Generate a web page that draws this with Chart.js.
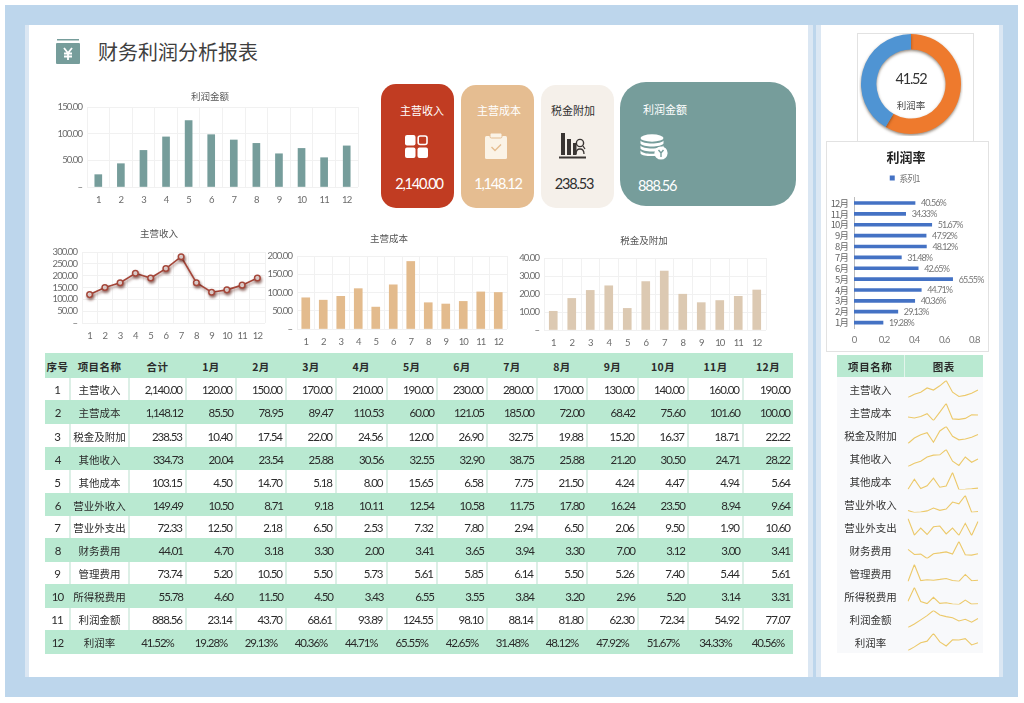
<!DOCTYPE html>
<html lang="zh"><head><meta charset="utf-8">
<script src="https://cdn.jsdelivr.net/npm/chart.js@4/dist/chart.umd.min.js"></script>
<style>
html,body{margin:0;padding:0;background:#fff;width:1024px;height:703px;overflow:hidden}
body{position:relative;font-family:"Noto Sans CJK SC",sans-serif;color:#333}
.a{position:absolute}
.c{text-align:center;white-space:nowrap}
canvas{position:absolute;display:block}
table{position:absolute;border-collapse:collapse;table-layout:fixed;font-size:10.5px}
td,th{padding:1px 0 0;text-align:center;overflow:hidden;white-space:nowrap;color:#2b2b2b}
.num{font-family:"Lato",sans-serif;font-size:11.5px;letter-spacing:-1px}
.big{font-family:"Lato",sans-serif;font-size:14.5px;letter-spacing:-1.2px;line-height:18px}
th{background:#b9e9d1;font-size:10.5px;font-weight:700;letter-spacing:.4px}
tr.g td{background:#b9e9d1}
tr.w td{background:#fff;border-left:2px solid #dcefe6}
tr.w td:first-child{border-left:0}
td.r{text-align:right;padding-right:3px}
</style></head><body>
<div class="a" style="left:5px;top:5px;width:1013px;height:692px;background:#bdd6ec"></div>
<div class="a" style="left:25px;top:25px;width:788px;height:652px;background:#dbe7f3"></div>
<div class="a" style="left:29px;top:25px;width:779px;height:652px;background:#fff"></div>
<div class="a" style="left:816px;top:25px;width:187px;height:652px;background:#dbe7f3"></div>
<div class="a" style="left:821px;top:25px;width:178px;height:652px;background:#fff"></div>

<svg class="a" style="left:56px;top:38px" width="24" height="26" viewBox="0 0 24 26">
<rect x="1" y="1" width="22" height="1.5" fill="#769d9b"/>
<rect x="0" y="5" width="24" height="21" rx="1" fill="#769d9b"/>
<path d="M8 10l4 5 4-5M12 15v7M8 15.5h8M8 18.5h8" stroke="#fff" stroke-width="1.8" fill="none"/></svg>
<div class="a" style="left:98px;top:38px;font-size:20px;line-height:28px;color:#3f3f3f;white-space:nowrap">财务利润分析报表</div>

<div class="a" style="left:381px;top:84px;width:73px;height:124px;border-radius:15px;background:#c13c22"></div>
<div class="a" style="left:461px;top:85px;width:73px;height:123px;border-radius:15px;background:#e5bd91"></div>
<div class="a" style="left:541px;top:85px;width:73px;height:123px;border-radius:15px;background:#f5f0ea"></div>
<div class="a" style="left:620px;top:82px;width:176px;height:124px;border-radius:26px;background:#769d9b"></div>

<div class="a c" style="left:381px;width:82px;top:102px;font-size:11px;line-height:16px;color:#fff">主营收入</div>
<div class="a c" style="left:461px;width:76px;top:102px;font-size:11px;line-height:16px;color:#fff">主营成本</div>
<div class="a c" style="left:541px;width:64px;top:102px;font-size:11px;line-height:16px;color:#2f2f2f">税金附加</div>
<div class="a" style="left:643px;top:101px;font-size:11px;line-height:16px;color:#fff;white-space:nowrap">利润金额</div>

<svg class="a" style="left:405px;top:135px" width="23" height="23" viewBox="0 0 23 23">
<rect x="0" y="0" width="10.5" height="10.5" rx="2" fill="#fff"/>
<rect x="13.2" y="1" width="8.8" height="8.5" rx="2" fill="none" stroke="#fff" stroke-width="1.6"/>
<rect x="0" y="12.5" width="10.5" height="10.5" rx="2" fill="#fff"/>
<rect x="12.5" y="12.5" width="10.5" height="10.5" rx="2" fill="#fff"/></svg>
<svg class="a" style="left:485px;top:133px" width="22" height="26" viewBox="0 0 22 26">
<rect x="0" y="3" width="22" height="23" rx="1.5" fill="#fbf3e6"/>
<rect x="5" y="0" width="12" height="5" rx="1.5" fill="#fbf3e6" stroke="#e5bd91"/>
<path d="M6.5 14l3.5 3.5 6-6" stroke="#e5bd91" stroke-width="1.4" fill="none"/></svg>
<svg class="a" style="left:559px;top:132px" width="28" height="28" viewBox="0 0 28 28">
<rect x="2" y="1" width="4" height="22" fill="#3a3533"/><rect x="8" y="7" width="4" height="16" fill="#3a3533"/>
<rect x="14" y="11" width="3.5" height="12" fill="#3a3533"/>
<circle cx="21" cy="11" r="3.6" fill="none" stroke="#3a3533" stroke-width="1.4"/>
<path d="M17 22c0-4 2-5 4-5s4 1 4 5M24 14l2 3" stroke="#3a3533" stroke-width="1.3" fill="none"/>
<rect x="0" y="24.5" width="27" height="2" fill="#3a3533"/></svg>
<svg class="a" style="left:640px;top:134px" width="28" height="26" viewBox="0 0 28 26">
<ellipse cx="12" cy="4" rx="11.5" ry="3.7" fill="#fff"/>
<path d="M.5 6.5c2 4 21 4 23 0v3c-2 4-21 4-23 0zM.5 11.5c2 4 21 4 23 0v3c-2 4-21 4-23 0zM.5 16.5c2 4 15 4 18 2l-1 3c-4 1-15 1-17-2z" fill="#fff"/>
<circle cx="21" cy="19" r="6.6" fill="#fff"/>
<path d="M18.5 16l2.5 3 2.5-3M21 19v4" stroke="#769d9b" stroke-width="1.4" fill="none"/></svg>

<div id="v1" class="a c big" style="left:381px;width:76px;top:175px;color:#fff"></div>
<div id="v2" class="a c big" style="left:461px;width:74px;top:175px;color:#fff"></div>
<div id="v3" class="a c big" style="left:541px;width:66px;top:175px;color:#2f2f2f"></div>
<div id="v4" class="a big" style="left:638px;top:177px;color:#fff"></div>

<canvas id="cProfit" style="left:52px;top:86px" width="316" height="124"></canvas>
<canvas id="cRevenue" style="left:43px;top:225px" width="232" height="122"></canvas>
<canvas id="cCost" style="left:261px;top:230px" width="256" height="122"></canvas>
<canvas id="cTax" style="left:512px;top:232px" width="264" height="122"></canvas>

<div class="a" style="left:857px;top:33px;width:115px;height:108px;border:1px solid #e2e2e2;border-bottom:0"></div>
<canvas id="cDonut" style="left:859px;top:32px" width="104" height="104"></canvas>
<div id="donutValue" class="a c big" style="left:871px;width:80px;top:70px;color:#333"></div>
<div class="a c" style="left:871px;width:80px;top:98px;font-size:9.5px;line-height:14px;color:#444">利润率</div>
<div class="a" style="left:826px;top:141px;width:161px;height:209px;border:1px solid #e2e2e2"></div>
<canvas id="cRate" style="left:827px;top:142px" width="160" height="208"></canvas>

<table id="mainTable" style="left:45px;top:353px;width:748px"></table>
<table id="sideTable" style="left:837px;top:355px;width:146px"></table>

<script>
const months = ['1月','2月','3月','4月','5月','6月','7月','8月','9月','10月','11月','12月'];
const monthNums = ['1','2','3','4','5','6','7','8','9','10','11','12'];
const headers = ['序号','项目名称','合计'];
const items = ['主营收入','主营成本','税金及附加','其他收入','其他成本','营业外收入','营业外支出','财务费用','管理费用','所得税费用','利润金额','利润率'];
const revenue = [120,150,170,210,190,230,280,170,130,140,160,190];
const cost = [85.50,78.95,89.47,110.53,60.00,121.05,185.00,72.00,68.42,75.60,101.60,100.00];
const taxAdd = [10.40,17.54,22.00,24.56,12.00,26.90,32.75,19.88,15.20,16.37,18.71,22.22];
const otherIncome = [20.04,23.54,25.88,30.56,32.55,32.90,38.75,25.88,21.20,30.50,24.71,28.22];
const otherCost = [4.50,14.70,5.18,8.00,15.65,6.58,7.75,21.50,4.24,4.47,4.94,5.64];
const nonOpIncome = [10.50,8.71,9.18,10.11,12.54,10.58,11.75,17.80,16.24,23.50,8.94,9.64];
const nonOpExpense = [12.50,2.18,6.50,2.53,7.32,7.80,2.94,6.50,2.06,9.50,1.90,10.60];
const finance = [4.70,3.18,3.30,2.00,3.41,3.65,3.94,3.30,7.00,3.12,3.00,3.41];
const admin = [5.20,10.50,5.50,5.73,5.61,5.85,6.14,5.50,5.26,7.40,5.44,5.61];
const incomeTax = [4.60,11.50,4.50,3.43,6.55,3.55,3.84,3.20,2.96,5.20,3.14,3.31];
const profit = [23.14,43.70,68.61,93.89,124.55,98.10,88.14,81.80,62.30,72.34,54.92,77.07];
const profitRate = [19.28,29.13,40.36,44.71,65.55,42.65,31.48,48.12,47.92,51.67,34.33,40.56];
const totals = [2140.00,1148.12,238.53,334.73,103.15,149.49,72.33,44.01,73.74,55.78,888.56];
const totalRate = 41.52;
const rateLegend = '系列1';
const rows = [revenue,cost,taxAdd,otherIncome,otherCost,nonOpIncome,nonOpExpense,finance,admin,incomeTax,profit,profitRate];

const colW = [25,59,57,50,50,50,50.5,50.5,50,50,50,51,50,55];
const rowH = [22,24,23,23,23,23,22,24,22,24,22,24];
const fmt = v => v.toLocaleString('en-US',{minimumFractionDigits:2,maximumFractionDigits:2});

let h = '<colgroup>'+colW.map(w=>`<col style="width:${w}px">`).join('')+'</colgroup>';
h += '<tr style="height:25px">'+[...headers,...months].map(t=>`<th>${t}</th>`).join('')+'</tr>';
rows.forEach((r,i)=>{
  const isRate = i===11, tot = isRate ? totalRate.toFixed(2)+'%' : fmt(totals[i]);
  h += `<tr class="${i%2?'g':'w'}" style="height:${rowH[i]}px"><td class="num">${i+1}</td><td>${items[i]}</td>`;
  h += `<td class="num ${isRate?'':'r'}">${tot}</td>`;
  r.forEach(v=>{h += `<td class="num ${isRate?'':'r'}">${isRate?v.toFixed(2)+'%':fmt(v)}</td>`});
  h += '</tr>';
});
document.getElementById('mainTable').innerHTML = h;

let s = '<colgroup><col style="width:67px"><col style="width:79px"></colgroup><tr style="height:22px"><th style="border-right:1px solid #e3f5ec;letter-spacing:.6px">项目名称</th><th>图表</th></tr>';
items.forEach((t,i)=>{ s += `<tr style="height:23px"><td style="background:#f8f9fb;color:#333">${t}</td><td style="background:#f8f9fb;position:relative"><canvas id="sp${i}" width="79" height="23" style="left:0;top:0"></canvas></td></tr>`;});
document.getElementById('sideTable').innerHTML = s;

document.getElementById('v1').textContent = fmt(totals[0]);
document.getElementById('v2').textContent = fmt(totals[1]);
document.getElementById('v3').textContent = fmt(totals[2]);
document.getElementById('v4').textContent = fmt(totals[10]);
document.getElementById('donutValue').textContent = totalRate.toFixed(2);

const numFont = '"Lato",sans-serif';
const cjk = '"Noto Sans CJK SC",sans-serif';
Chart.defaults.animation = false;
Chart.defaults.responsive = false;
Chart.defaults.font.family = cjk;

const shadow = (color,blur,dx,dy) => ({
  id:'sh',
  beforeDatasetsDraw(c){const x=c.ctx;x.save();x.shadowColor=color;x.shadowBlur=blur;x.shadowOffsetX=dx;x.shadowOffsetY=dy;},
  afterDatasetsDraw(c){c.ctx.restore();}
});
const tightTicks = (cx,spacing) => ({
  id:'tight',
  afterLayout(c){
    [c.titleBlock,c.legend].forEach(b=>{
      if(!b||!b.options.display)return;
      const d=cx-(b.left+b.right)/2;
      b.left+=d;b.right+=d;
    });
    const t=c.titleBlock;
    if(!t._wrapped){
      const o=t.draw;
      t.draw=function(){const x=this.ctx,l=x.letterSpacing;x.letterSpacing='0px';o.call(this);x.letterSpacing=l;};
      t._wrapped=true;
    }
  },
  beforeDraw(c){c.ctx.letterSpacing=spacing;}
});

function axisChart(id,type,data,color,titleText,yMax,step,yW,xH,topH,titleTop,canvasTitleCx,thick,extra){
  const ds = {data,backgroundColor:color,borderColor:color,barThickness:thick,...(extra||{})};
  new Chart(document.getElementById(id),{
    type,
    data:{labels:monthNums,datasets:[ds]},
    plugins:[tightTicks(canvasTitleCx,'-0.9px'),...(extra?[shadow('rgba(90,30,20,.55)',3,1,2)]:[])],
    options:{
      layout:{padding:{left:0,right:10,top:0,bottom:0}},
      plugins:{
        legend:{display:false},tooltip:{enabled:false},
        title:{display:true,text:titleText,color:'#555',font:{size:9.5,weight:'normal',family:cjk,lineHeight:1},
          padding:{top:titleTop,bottom:topH-titleTop-9.5}}
      },
      scales:{
        x:{offset:true,grid:{color:'#f1f1f1',drawTicks:false,offset:true},border:{display:false},
          ticks:{color:'#6b6b6b',font:{size:9.5,family:numFont},padding:7,maxRotation:0,autoSkip:false},
          afterFit(s){s.height=xH;}},
        y:{min:0,max:yMax,grid:{color:'#f1f1f1',drawTicks:false},border:{display:false},
          ticks:{stepSize:step,autoSkip:false,color:'#6b6b6b',font:{size:9.5,family:numFont},padding:5,
            callback:v=>v===0?'–':v.toFixed(2)},
          afterFit(s){s.width=yW;}}
      }
    }
  });
}
axisChart('cProfit','bar',profit,'#769d9b','利润金额',150,50,35,23,21,5.25,158,7);
axisChart('cRevenue','line',revenue,'#a5473a','主营收入',300,50,39,24,27,3.25,116,undefined,
  {borderWidth:1.6,tension:0,pointRadius:2.8,pointBackgroundColor:'#fff',pointBorderColor:'#a5473a',pointBorderWidth:1.5});
axisChart('cCost','bar',cost,'#e3bb8d','主营成本',200,50,36,23,26,3.25,128,8);
axisChart('cTax','bar',taxAdd,'#dcc9b2','税金及附加',40,10,32,24,26,3.25,132,8);

new Chart(document.getElementById('cDonut'),{
  type:'doughnut',
  data:{labels:['其余','利润率'],datasets:[{data:[100-totalRate,totalRate],backgroundColor:['#ee7a2d','#4f94d3'],borderWidth:0}]},
  plugins:[shadow('rgba(60,40,20,.55)',3,0,1.5)],
  options:{radius:50,cutout:36,layout:{padding:0},plugins:{legend:{display:false},tooltip:{enabled:false}}}
});

const rateLabels = {
  id:'rateLabels',
  afterDatasetsDraw(c){
    const x=c.ctx,m=c.getDatasetMeta(0);
    x.save();x.font='9px '+numFont;x.fillStyle='#777';x.textBaseline='middle';
    m.data.forEach((b,i)=>x.fillText(profitRate[i].toFixed(2)+'%',b.x+6,b.y+0.5));
    x.restore();
  }
};
const legendGap = {id:'legendGap',beforeInit(c){const f=c.legend.fit;c.legend.fit=function(){f.call(this);this.height+=5;};}};
new Chart(document.getElementById('cRate'),{
  type:'bar',
  data:{labels:months,datasets:[{label:rateLegend,data:profitRate.map(v=>v/100),backgroundColor:'#4472c4',barThickness:3}]},
  plugins:[tightTicks(79,'-0.9px'),rateLabels,legendGap],
  options:{
    indexAxis:'y',
    layout:{padding:{left:0,right:9,top:0,bottom:0}},
    plugins:{
      tooltip:{enabled:false},
      title:{display:true,text:'利润率',color:'#222',font:{size:13,weight:'bold',family:cjk,lineHeight:1.2},padding:{top:7,bottom:4}},
      legend:{position:'top',labels:{boxWidth:5,boxHeight:5,color:'#777',padding:5,font:{size:9,family:cjk}}}
    },
    scales:{
      x:{min:0,max:0.8,grid:{display:false,drawTicks:false},border:{display:false},
        ticks:{stepSize:0.2,color:'#777',font:{size:9.5,family:numFont},padding:6},
        afterFit(s){s.height=22;}},
      y:{reverse:true,grid:{display:false,drawTicks:false},border:{display:true,color:'#bcbcbc',width:1},
        ticks:{color:'#666',font:{size:9.5,family:cjk},padding:6,autoSkip:false},
        afterFit(s){s.width=27;}}
    }
  }
});

rows.forEach((r,i)=>{
  new Chart(document.getElementById('sp'+i),{
    type:'line',
    data:{labels:months,datasets:[{data:r,borderColor:'#ecc96a',borderWidth:1.1,pointRadius:0,tension:0}]},
    options:{
      layout:{padding:{left:4,right:5,top:3.5,bottom:2.5}},
      plugins:{legend:{display:false},tooltip:{enabled:false}},
      scales:{x:{display:false},y:{display:false,min:Math.min(...r),max:Math.max(...r)}}
    }
  });
});
</script>
</body></html>
